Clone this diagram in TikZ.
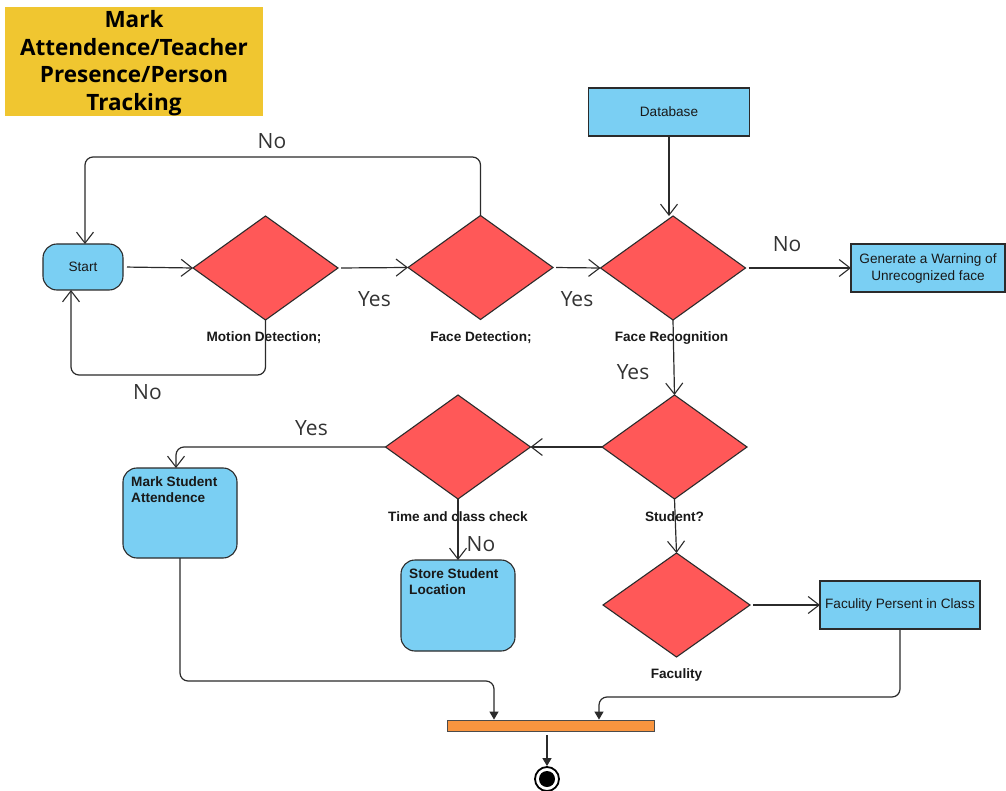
\documentclass[tikz,border=0pt]{standalone}
\usepackage{fontspec}
\setmainfont{Liberation Sans}
\newfontfamily\headfont{Open Sans}
\usetikzlibrary{shapes.geometric,arrows.meta,calc}

\definecolor{boxblue}{HTML}{7ACFF3}
\definecolor{decred}{HTML}{FF5858}
\definecolor{barorange}{HTML}{F9953F}
\definecolor{titleyellow}{HTML}{F0C630}
\definecolor{edge}{HTML}{2B2B2B}

\begin{document}
\begin{tikzpicture}[x=1pt,y=-1pt,
  every node/.style={font=\fontsize{13.6}{16}\selectfont, text=black!90},
  decision/.style={diamond, draw=edge, fill=decred, line width=1.1pt,
    minimum width=145pt, minimum height=104pt, inner sep=0pt, outer sep=0pt},
  procbox/.style={rectangle, draw=edge, fill=boxblue, line width=1.1pt,
    inner sep=0pt, outer sep=0pt, align=center},
  roundbox/.style={procbox, rounded corners=14pt},
  dlabel/.style={font=\bfseries\fontsize{13.6}{16}\selectfont, inner sep=0pt},
  boxtext/.style={font=\bfseries\fontsize{13.6}{16}\selectfont, inner sep=0pt,
    anchor=north west, align=left},
  yn/.style={font=\headfont\fontsize{21}{24}\selectfont, text=black!80, inner sep=0pt},
  arr/.style={draw=edge, line width=1.2pt,
    -{Straight Barb[length=11pt,width=17pt,line width=1.1pt]}},
  farr/.style={draw=edge, line width=1.2pt, -{Triangle[length=8pt,width=9pt]}},
  loop/.style={rounded corners=8pt}]

\fill[white] (0,0) rectangle (1006,791);
\useasboundingbox (0,0) rectangle (1006,791);

% heading
\node[fill=titleyellow, minimum width=258pt, minimum height=109pt, inner sep=0pt]
  (title) at (134,61.5) {};
\node[inner sep=0pt, align=center, text=black,
  font=\headfont\bfseries\fontsize{22.5}{27.5}\selectfont] (titletext) at (134,63)
  {Mark\\Attendence/Teacher\\Presence/Person\\Tracking};

% process boxes
\node[roundbox, minimum width=80pt, minimum height=46pt] (start) at (83,267) {Start};
\node[procbox, minimum width=161pt, minimum height=48pt] (db) at (669,112) {Database};
\node[procbox, minimum width=154pt, minimum height=48pt, font=\fontsize{13.6}{17}\selectfont]
  (warn) at (928,268) {Generate a Warning of\\Unrecognized face};
\node[procbox, minimum width=160pt, minimum height=48pt] (fpc) at (900,605) {Faculity Persent in Class};
\node[roundbox, minimum width=114pt, minimum height=90pt] (mark) at (180,513) {};
\node[boxtext] (marktxt) at (131,476) {Mark Student\\Attendence};
\node[roundbox, minimum width=114pt, minimum height=91pt] (store) at (458,605.5) {};
\node[boxtext] (storetxt) at (409,568) {Store Student\\Location};

% decisions
\node[decision] (md) at (265.5,268) {};
\node[decision] (fd) at (480.5,267.5) {};
\node[decision] (fr) at (673,268) {};
\node[decision] (st) at (674.5,447) {};
\node[decision] (tc) at (458,447) {};
\node[decision, minimum width=147pt] (fac) at (676.5,605) {};

\node[dlabel] (mdl) at (264,338) {Motion Detection;};
\node[dlabel] (fdl) at (481,338) {Face Detection;};
\node[dlabel] (frl) at (671.5,338) {Face Recognition};
\node[dlabel] (stl) at (674.5,517) {Student?};
\node[dlabel] (tcl) at (458,517) {Time and class check};
\node[dlabel] (facl) at (676.5,675) {Faculity};

% join bar and final state
\node[fill=barorange, draw=edge!85, line width=0.8pt, minimum width=207pt,
  minimum height=11pt, inner sep=0pt] (bar) at (550.5,725.5) {};
\node[circle, draw=black, line width=1.8pt, fill=white, minimum size=24pt,
  inner sep=0pt] (endc) at (547,779) {};
\node[circle, fill=black, minimum size=16pt, inner sep=0pt] (endin) at (endc) {};

% connectors
\draw[arr, shorten <=4pt] (start.east) -- (md.west);
\draw[arr, shorten <=3pt] (md.east) -- (fd.west);
\draw[arr, shorten <=3pt] (fd.east) -- (fr.west);
\draw[arr, loop] (fd.north) -- (fd.north |- 0,157) -| ([xshift=2pt]start.north);
\draw[arr, loop] (md.south) -- (md.south |- 0,375) -| ([xshift=-12pt]start.south);
\draw[arr] (db.south) -- (db.south |- fr.north);
\draw[arr, shorten <=3pt] (fr.east) -- (warn.west);
\draw[arr] (fr.south) -- (st.north);
\draw[arr] (st.west) -- (tc.east);
\draw[arr, loop] (tc.west) -| ([xshift=-4pt]mark.north);
\draw[arr] (tc.south) -- (store.north);
\draw[arr] (st.south) -- (fac.north);
\draw[arr, shorten <=3pt] (fac.east) -- (fpc.west);
\draw[farr, loop] (mark.south) -- (mark.south |- 0,681) -| ([xshift=-56.5pt]bar.north);
\draw[farr, loop] (fpc.south) -- (fpc.south |- 0,697) -| ([xshift=48.5pt]bar.north);
\draw[farr, shorten <=4pt] (endc |- bar.south) -- (endc.north);

% branch labels
\node[yn] (no1) at (272,141) {No};
\node[yn] (no2) at (147.5,392) {No};
\node[yn] (yes1) at (374.5,299) {Yes};
\node[yn] (yes2) at (577,299) {Yes};
\node[yn] (no3) at (787,244) {No};
\node[yn] (yes3) at (633,372) {Yes};
\node[yn] (yes4) at (311.5,428) {Yes};
\node[yn] (no4) at (481,544) {No};
\end{tikzpicture}
\end{document}
